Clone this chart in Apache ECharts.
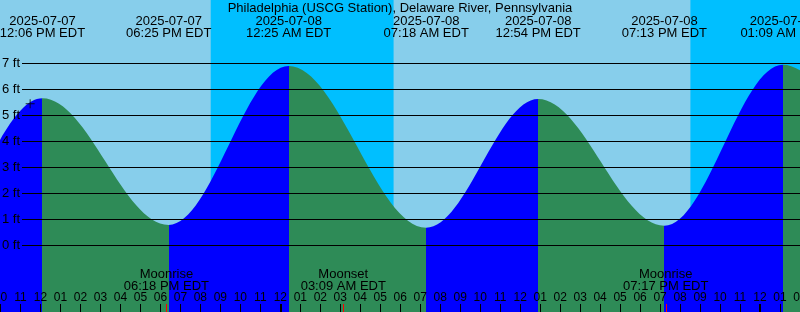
<!DOCTYPE html>
<html>
<head>
<meta charset="utf-8">
<script src="https://cdn.jsdelivr.net/npm/echarts@6/dist/echarts.min.js"></script>
<style>
  html, body { margin: 0; padding: 0; background: #87CEEB; }
  #chart { width: 800px; height: 312px; }
</style>
</head>
<body>
<div id="chart"></div>
<script>
// ---- Data (times in EDT) ----
const titleText = 'Philadelphia (USCG Station), Delaware River, Pennsylvania';

// Tide extremes (first two and last entries are estimates just outside the visible window)
const tideDates   = ['2025-07-07', '2025-07-07', '2025-07-07', '2025-07-07', '2025-07-08', '2025-07-08', '2025-07-08', '2025-07-08', '2025-07-09', '2025-07-09'];
const tideTimes   = ['12:20 AM',   '06:30 AM',   '12:06 PM',   '06:25 PM',   '12:25 AM',   '07:18 AM',   '12:54 PM',   '07:13 PM',   '01:09 AM',   '07:50 AM'];
const tideHeights = [6.9,          0.6,          5.66,         0.79,         6.9,          0.68,         5.63,         0.76,         6.95,         0.6];

// Moon events
const moonEvents = ['Moonrise', 'Moonset', 'Moonrise'];
const moonDates  = ['2025-07-07', '2025-07-08', '2025-07-08'];
const moonTimes  = ['06:18 PM', '03:09 AM', '07:17 PM'];

// Night periods (sunset -> sunrise)
const nightStartDates = ['2025-07-07', '2025-07-08'];
const nightStartTimes = ['08:31 PM', '08:31 PM'];
const nightEndDates   = ['2025-07-08', '2025-07-09'];
const nightEndTimes   = ['05:40 AM', '05:41 AM'];

// "Now" marker on the curve
const nowDate = '2025-07-07';
const nowTime = '11:29 AM';
const nowHeight = 5.45;

// Height gridlines / labels (ft)
const heightTicks = [0, 1, 2, 3, 4, 5, 6, 7];

// Hour ticks (hours since 2025-07-07 00:00 EDT)
const hourTicks = [10, 11, 12, 13, 14, 15, 16, 17, 18, 19, 20, 21, 22, 23, 24, 25, 26, 27, 28, 29, 30,
                   31, 32, 33, 34, 35, 36, 37, 38, 39, 40, 41, 42, 43, 44, 45, 46, 47, 48, 49, 50];
const midnightTicks = [24, 48];

// ---- helpers ----
function toHours(date, time) {
  const day = Number(date.slice(8, 10)) - 7;
  let hh = Number(time.slice(0, 2)) % 12;
  const mm = Number(time.slice(3, 5));
  if (time.slice(6, 8) === 'PM') hh += 12;
  return day * 24 + hh + mm / 60;
}
const tideHours = tideDates.map((d, i) => toHours(d, tideTimes[i]));
const moonHours = moonDates.map((d, i) => toHours(d, moonTimes[i]));
const nowHour = toHours(nowDate, nowTime);
const nightRanges = nightStartDates.map((d, i) => [toHours(d, nightStartTimes[i]), toHours(nightEndDates[i], nightEndTimes[i])]);

const X_MIN = 9.975, X_MAX = 50;
const Y_MIN = -2.5577, Y_MAX = 9.4423;
const FONT = 'Liberation Sans';
const RISE = '#0000FF', FALL = '#2E8B57';

function findIdx(arr, v) { return arr.findIndex(a => Math.abs(a - v) < 1e-6); }

const pieces = [];
for (let i = 0; i < tideHours.length - 1; i++) {
  const p = { color: tideHeights[i + 1] > tideHeights[i] ? RISE : FALL };
  if (i > 0) p.gte = tideHours[i];
  if (i < tideHours.length - 2) p.lt = tideHours[i + 1];
  pieces.push(p);
}

const baseX = { type: 'value', gridIndex: 0, min: X_MIN, max: X_MAX, z: 10,
  axisLine: { show: false, onZero: false }, splitLine: { show: false } };

const chart = echarts.init(document.getElementById('chart'), null, { renderer: 'canvas' });
chart.setOption({
  animation: false,
  backgroundColor: '#87CEEB',
  title: {
    text: titleText, left: 'center', top: 1, padding: 0,
    textStyle: { fontSize: 13, fontWeight: 'normal', color: '#000', fontFamily: FONT, lineHeight: 14 }
  },
  grid: [
    { left: 0, right: 0, top: 0, bottom: 0, containLabel: false, outerBoundsMode: 'none' },
    { left: 22, right: 0, top: 63, bottom: 67, containLabel: false, outerBoundsMode: 'none' }
  ],
  xAxis: [
    Object.assign({}, baseX, {
      position: 'bottom',
      axisTick: { show: true, inside: true, length: 8, lineStyle: { color: '#000', width: 1 }, customValues: hourTicks },
      axisLabel: { show: true, inside: true, margin: 8, customValues: hourTicks, color: '#000', fontSize: 12, fontFamily: FONT,
        formatter: v => String((Math.round(v) % 12) || 12).padStart(2, '0') }
    }),
    Object.assign({}, baseX, {
      position: 'top',
      axisTick: { show: false },
      axisLabel: { show: true, inside: true, margin: 15, customValues: tideHours, color: '#000', fontSize: 13, fontFamily: FONT, lineHeight: 12.3,
        formatter: v => { const i = findIdx(tideHours, v); return i < 0 ? '' : tideDates[i] + '\n' + tideTimes[i] + ' EDT'; } }
    }),
    Object.assign({}, baseX, {
      position: 'bottom', offset: 0,
      axisTick: { show: true, inside: true, length: 8, lineStyle: { color: '#FF0000', width: 1 }, customValues: moonHours },
      axisLabel: { show: true, inside: true, margin: 19.5, customValues: moonHours, color: '#000', fontSize: 13, fontFamily: FONT, lineHeight: 12.3,
        formatter: v => { const i = findIdx(moonHours, v); return i < 0 ? '' : moonEvents[i] + '\n' + moonTimes[i] + ' EDT'; } }
    }),
    Object.assign({}, baseX, {
      position: 'bottom', offset: 0,
      axisTick: { show: true, inside: true, length: 8, lineStyle: { color: '#000', width: 2 }, customValues: midnightTicks },
      axisLabel: { show: false }
    }),
    { type: 'value', gridIndex: 1, min: 0, max: 1, show: false }
  ],
  yAxis: [
    { type: 'value', gridIndex: 0, min: Y_MIN, max: Y_MAX, show: false },
    { type: 'value', gridIndex: 1, min: 0, max: 7, interval: 1, z: 10,
      axisLine: { show: false, onZero: false }, axisTick: { show: false },
      splitLine: { show: true, lineStyle: { color: '#000', width: 1 } },
      axisLabel: { show: true, margin: 2, color: '#000', fontSize: 13, fontFamily: FONT, formatter: '{value} ft' } }
  ],
  visualMap: {
    type: 'piecewise', show: false, dimension: 0, seriesIndex: 0, pieces: pieces
  },
  series: [
    {
      type: 'line', xAxisIndex: 0, yAxisIndex: 0, z: 2, silent: true,
      data: tideHours.map((h, i) => [h, tideHeights[i]]),
      smooth: 0.36, smoothMonotone: 'x', showSymbol: false, symbol: 'none',
      lineStyle: { width: 0 },
      areaStyle: { opacity: 1, origin: 'start' },
      markArea: {
        silent: true, itemStyle: { color: '#00BFFF' },
        data: nightRanges.map(r => [{ xAxis: r[0] }, { xAxis: r[1] }])
      }
    },
    {
      type: 'scatter', xAxisIndex: 0, yAxisIndex: 0, z: 11, silent: true,
      data: [[nowHour, nowHeight]],
      symbol: 'path://M4,0h1v9h-1zM0,4h9v1h-9z', symbolSize: 9,
      itemStyle: { color: '#000' }
    },
    {
      type: 'line', xAxisIndex: 4, yAxisIndex: 1, data: [], silent: true
    }
  ]
});
</script>
</body>
</html>
